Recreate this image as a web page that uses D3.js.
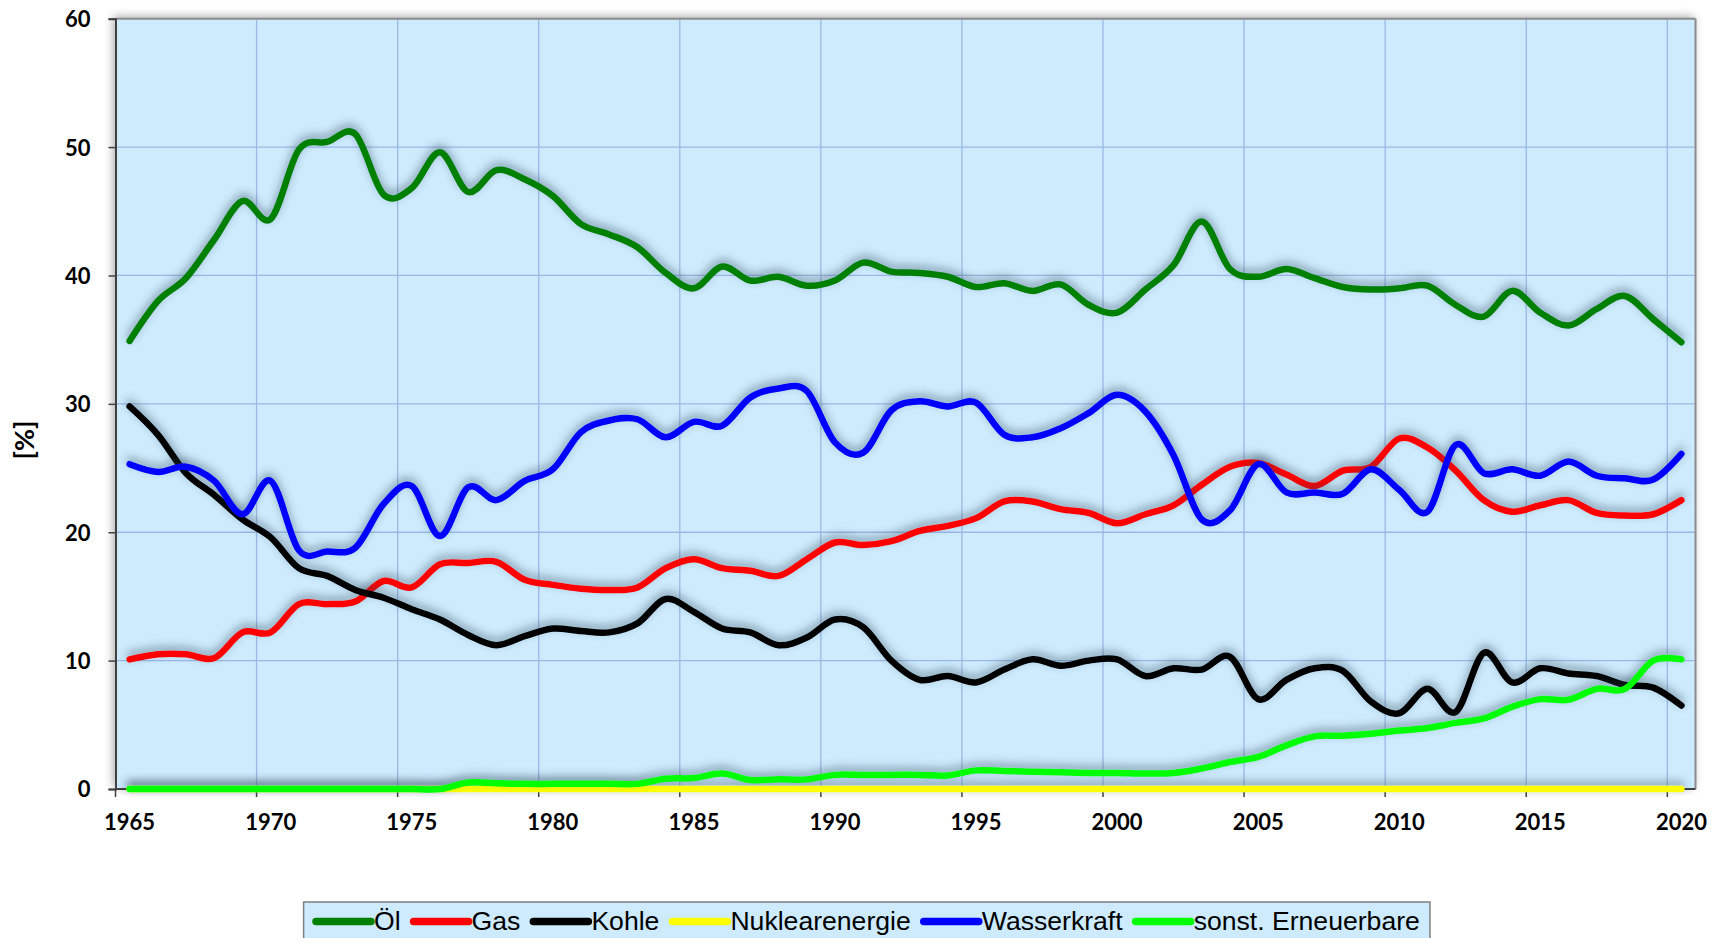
<!DOCTYPE html>
<html>
<head>
<meta charset="utf-8">
<script src="https://cdn.jsdelivr.net/npm/d3@7"></script>
<style>
  body { margin: 0; background: #fff; }
  svg { display: block; }
</style>
</head>
<body>
<svg id="chart" width="1725" height="938"></svg>
<script>
// Anteile der Energieträger am Primärenergieverbrauch, 1965 - 2020, in %
var years = d3.range(1965, 2021);

var oel = [34.9, 38.0, 39.8, 42.8, 45.8, 44.4, 49.8, 50.4, 51.0, 46.3,
           46.8, 49.6, 46.5, 48.2, 47.5, 46.2, 44.0, 43.2, 42.2, 40.2,
           39.0, 40.7, 39.6, 39.9, 39.2, 39.6, 41.0, 40.3, 40.2, 39.9,
           39.1, 39.4, 38.8, 39.3, 37.7, 37.1, 38.9, 40.8, 44.2, 40.5,
           39.9, 40.5, 39.8, 39.1, 38.9, 39.0, 39.2, 37.7, 36.8, 38.8,
           37.1, 36.1, 37.4, 38.4, 36.6, 34.8];
var gas = [10.1, 10.5, 10.5, 10.2, 12.2, 12.2, 14.4, 14.4, 14.6, 16.2,
           15.7, 17.5, 17.6, 17.7, 16.3, 15.9, 15.6, 15.5, 15.7, 17.2,
           17.9, 17.2, 17.0, 16.6, 17.9, 19.2, 19.0, 19.3, 20.1, 20.5,
           21.1, 22.4, 22.4, 21.8, 21.5, 20.7, 21.4, 22.1, 23.7, 25.1,
           25.4, 24.5, 23.6, 24.8, 25.1, 27.3, 26.6, 24.8, 22.5, 21.6,
           22.1, 22.5, 21.5, 21.3, 21.4, 22.5];
var kohle = [29.8, 27.6, 24.6, 22.9, 21.0, 19.6, 17.2, 16.6, 15.5, 14.9,
             14.0, 13.2, 12.0, 11.2, 11.9, 12.5, 12.3, 12.2, 12.9, 14.8,
             13.8, 12.5, 12.2, 11.2, 11.8, 13.2, 12.6, 10.0, 8.5, 8.8,
             8.3, 9.3, 10.1, 9.6, 10.0, 10.1, 8.8, 9.4, 9.3, 10.3,
             7.0, 8.5, 9.4, 9.2, 6.8, 5.9, 7.8, 6.0, 10.6, 8.3,
             9.4, 9.0, 8.8, 8.1, 7.9, 6.5];
var nuklear = [0, 0, 0, 0, 0, 0, 0, 0, 0, 0,
               0, 0, 0, 0, 0, 0, 0, 0, 0, 0,
               0, 0, 0, 0, 0, 0, 0, 0, 0, 0,
               0, 0, 0, 0, 0, 0, 0, 0, 0, 0,
               0, 0, 0, 0, 0, 0, 0, 0, 0, 0,
               0, 0, 0, 0, 0, 0];
var wasser = [25.3, 24.7, 25.1, 24.0, 21.4, 24.0, 18.6, 18.5, 18.8, 22.2,
              23.6, 19.7, 23.5, 22.5, 24.0, 24.9, 27.8, 28.7, 28.8, 27.4,
              28.6, 28.3, 30.5, 31.2, 31.0, 27.0, 26.2, 29.5, 30.2, 29.8,
              30.1, 27.6, 27.4, 28.1, 29.3, 30.7, 29.4, 26.0, 21.0, 21.7,
              25.3, 23.1, 23.1, 23.0, 24.9, 23.3, 21.6, 26.8, 24.6, 24.9,
              24.4, 25.5, 24.4, 24.2, 24.1, 26.1];
var erneuerbar = [0, 0, 0, 0, 0, 0, 0, 0, 0, 0,
                  0, 0, 0.5, 0.45, 0.4, 0.4, 0.4, 0.4, 0.4, 0.8,
                  0.85, 1.2, 0.7, 0.75, 0.75, 1.1, 1.1, 1.1, 1.1, 1.05,
                  1.45, 1.4, 1.35, 1.3, 1.25, 1.25, 1.2, 1.25, 1.6, 2.1,
                  2.5, 3.4, 4.1, 4.15, 4.3, 4.55, 4.75, 5.15, 5.5, 6.4,
                  7.0, 6.95, 7.8, 7.8, 10.0, 10.1];

var seriesNames = ["Öl", "Gas", "Kohle", "Nuklearenergie", "Wasserkraft", "sonst. Erneuerbare"];
var seriesColors = ["#008000", "#ff0000", "#000000", "#ffff00", "#0000ff", "#00ff00"];
var seriesValues = [oel, gas, kohle, nuklear, wasser, erneuerbar];
var yTicks = [0, 10, 20, 30, 40, 50, 60];

// note: "top" is taken by window.top, so the plot edges get their own names
var plotL = 115.5, plotR = 1695.5, plotT = 18.7, plotB = 789;
var tickFont = "Lato, 'Open Sans', sans-serif";

var svg = d3.select("#chart");
var defs = svg.append("defs");

// shadow under the lines (Excel style, pushed upwards)
var f = defs.append("filter").attr("id", "lineShadow")
  .attr("filterUnits", "userSpaceOnUse")
  .attr("x", 0).attr("y", 0).attr("width", 1725).attr("height", 938);
f.append("feGaussianBlur").attr("in", "SourceAlpha").attr("stdDeviation", 4);
f.append("feOffset").attr("dx", 0).attr("dy", -4).attr("result", "ob");
f.append("feFlood").attr("flood-color", "#34495c").attr("flood-opacity", 0.5);
f.append("feComposite").attr("in2", "ob").attr("operator", "in");
var fm = f.append("feMerge");
fm.append("feMergeNode");
fm.append("feMergeNode").attr("in", "SourceGraphic");

var f2 = defs.append("filter").attr("id", "boxShadow")
  .attr("filterUnits", "userSpaceOnUse")
  .attr("x", 0).attr("y", 0).attr("width", 1725).attr("height", 938);
f2.append("feGaussianBlur").attr("in", "SourceAlpha").attr("stdDeviation", 5);
f2.append("feOffset").attr("dx", -2).attr("dy", -2).attr("result", "ob");
f2.append("feFlood").attr("flood-color", "#000").attr("flood-opacity", 0.35);
f2.append("feComposite").attr("in2", "ob").attr("operator", "in");
var fm2 = f2.append("feMerge");
fm2.append("feMergeNode");
fm2.append("feMergeNode").attr("in", "SourceGraphic");

var x = d3.scaleBand().domain(years).range([plotL, plotR]).padding(0);
var y = d3.scaleLinear().domain([0, 60]).range([plotB, plotT]);
var bw = x.bandwidth();

// plot area
svg.append("rect")
  .attr("x", plotL).attr("y", plotT)
  .attr("width", plotR - plotL).attr("height", plotB - plotT)
  .attr("fill", "#cdebfd")
  .attr("filter", "url(#boxShadow)");

var fiveYears = years.filter(function(d) { return (d - 1965) % 5 === 0; });

// grid
svg.append("g").selectAll("line")
  .data(fiveYears.slice(1))
  .join("line")
  .attr("x1", function(d) { return x(d); })
  .attr("x2", function(d) { return x(d); })
  .attr("y1", plotT).attr("y2", plotB)
  .attr("stroke", "#9ab8e4").attr("stroke-width", 1.3);

svg.append("g").selectAll("line")
  .data(yTicks.slice(1, -1))
  .join("line")
  .attr("x1", plotL).attr("x2", plotR)
  .attr("y1", function(d) { return y(d); })
  .attr("y2", function(d) { return y(d); })
  .attr("stroke", "#9ab8e4").attr("stroke-width", 1.3);

// frame
svg.append("line").attr("x1", plotL).attr("x2", plotR).attr("y1", plotT).attr("y2", plotT)
  .attr("stroke", "#8c8c8c").attr("stroke-width", 2);
svg.append("line").attr("x1", plotR).attr("x2", plotR).attr("y1", plotT).attr("y2", plotB)
  .attr("stroke", "#8c8c8c").attr("stroke-width", 2);

// y axis
var yAxis = svg.append("g")
  .attr("transform", "translate(" + plotL + ",0)")
  .call(d3.axisLeft(y).tickValues(yTicks).tickSize(7).tickPadding(18));
yAxis.select(".domain").attr("stroke", "#404040").attr("stroke-width", 2);
yAxis.selectAll(".tick line").attr("stroke", "#404040").attr("stroke-width", 1.5);
yAxis.selectAll(".tick text")
  .attr("font-family", tickFont).attr("font-weight", "bold")
  .attr("font-size", 22).attr("fill", "#000").attr("dy", "0.36em");

// x axis: labels at band centres, ticks at band edges
var xAxis = svg.append("g")
  .attr("transform", "translate(0," + plotB + ")")
  .call(d3.axisBottom(x).tickValues(fiveYears).tickSize(0).tickPadding(25));
xAxis.select(".domain").remove();
xAxis.selectAll(".tick text")
  .attr("font-family", tickFont).attr("font-weight", "bold")
  .attr("font-size", 22).attr("fill", "#000");

svg.append("line").attr("x1", plotL).attr("x2", plotR).attr("y1", plotB).attr("y2", plotB)
  .attr("stroke", "#404040").attr("stroke-width", 2);
svg.append("g").selectAll("line")
  .data(fiveYears)
  .join("line")
  .attr("x1", function(d) { return x(d); })
  .attr("x2", function(d) { return x(d); })
  .attr("y1", plotB).attr("y2", plotB + 8)
  .attr("stroke", "#404040").attr("stroke-width", 1.5);

// y title
svg.append("text")
  .attr("transform", "translate(34,440) rotate(-90)")
  .attr("text-anchor", "middle")
  .attr("font-family", tickFont).attr("font-weight", "bold")
  .attr("font-size", 27).attr("fill", "#000")
  .text("[%]");

// lines
var line = d3.line()
  .x(function(d, i) { return x(years[i]) + bw / 2; })
  .y(function(d) { return y(d); })
  .curve(d3.curveCardinal.tension(0));

svg.append("g").selectAll("path")
  .data(seriesValues)
  .join("path")
  .attr("d", function(d) { return line(d); })
  .attr("fill", "none")
  .attr("stroke", function(d, i) { return seriesColors[i]; })
  .attr("stroke-width", 6.5)
  .attr("stroke-linecap", "round")
  .attr("stroke-linejoin", "round")
  .attr("filter", "url(#lineShadow)");

// legend
var legend = svg.append("g");
legend.append("rect")
  .attr("x", 303.6).attr("y", 902)
  .attr("width", 1126.4).attr("height", 60)
  .attr("fill", "#cdebfd")
  .attr("stroke", "#7f7f7f").attr("stroke-width", 1.5);

var lx = 316;
seriesNames.forEach(function(name, i) {
  legend.append("line")
    .attr("x1", lx).attr("x2", lx + 55)
    .attr("y1", 921.5).attr("y2", 921.5)
    .attr("stroke", seriesColors[i]).attr("stroke-width", 7.5)
    .attr("stroke-linecap", "round");
  var t = legend.append("text")
    .attr("x", lx + 58).attr("y", 930)
    .attr("font-family", "'Liberation Sans', Arial, sans-serif")
    .attr("font-size", 26.6).attr("fill", "#000")
    .text(name);
  lx = lx + 58 + t.node().getComputedTextLength() + 13;
});
</script>
</body>
</html>
